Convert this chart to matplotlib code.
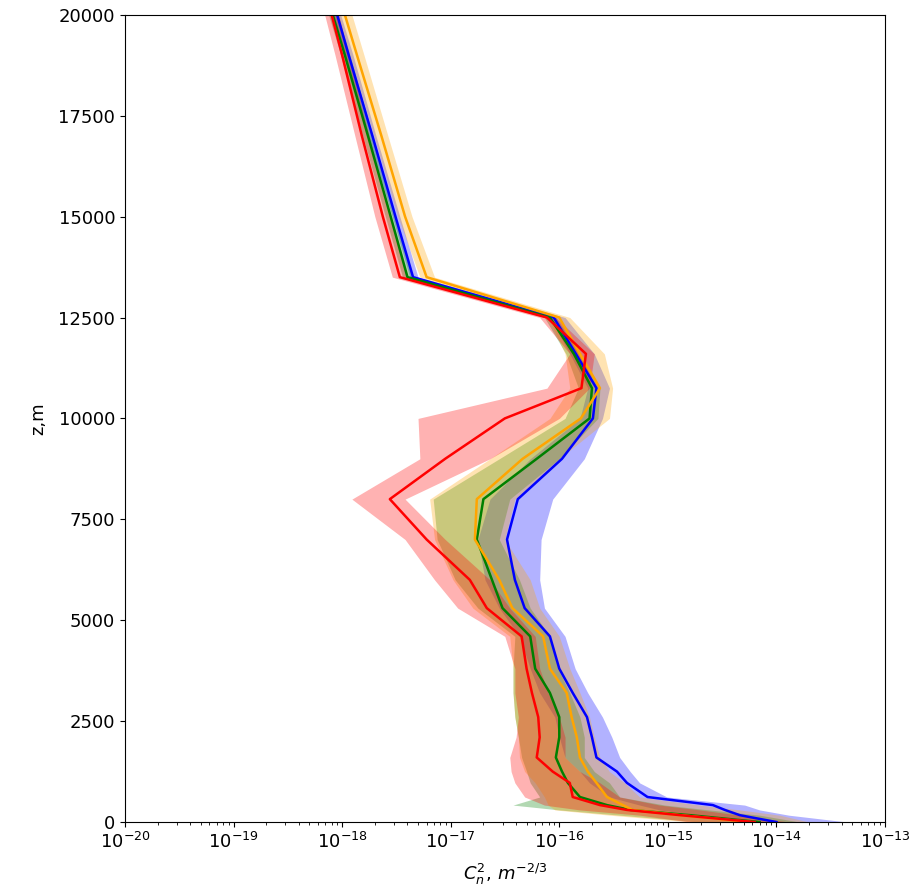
import numpy as np
import matplotlib
matplotlib.use('Agg')
import matplotlib.pyplot as plt

plt.rcParams['font.size'] = 13

# altitude levels, m
z = [0, 170, 300, 420, 620, 970, 1250, 1600, 2100, 2600, 3200, 3800, 4600, 5300,
     6000, 7000, 8000, 9000, 10000, 10750, 11600, 12500, 13500, 15000, 17000, 19000, 20000]

# Cn2 profiles (m^-2/3): mean line, lower and upper envelope
blue = [1.0e-14, 4.6e-15, 3.35e-15, 2.6e-15, 6.5e-16, 4.2e-16, 3.4e-16, 2.2e-16, 2.0e-16,
        1.8e-16, 1.33e-16, 1.0e-16, 8.2e-17, 4.8e-17, 3.9e-17, 3.3e-17, 4.15e-17, 1.06e-16,
        2.04e-16, 2.2e-16, 1.42e-16, 8.9e-17, 4.5e-18, 3.1e-18, 1.9e-18, 1.15e-18, 9.0e-19]
blue_lo = [4.6e-15, 1.97e-15, 8.4e-16, 5.5e-16, 2.9e-16, 1.9e-16, 1.55e-16, 1.13e-16, 1.0e-16,
           9.1e-17, 6.6e-17, 5.4e-17, 4.3e-17, 2.8e-17, 2.07e-17, 1.78e-17, 2.3e-17, 5.4e-17,
           1.55e-16, 1.83e-16, 1.25e-16, 8.2e-17, 4.2e-18, 2.9e-18, 1.73e-18, 1.06e-18, 8.2e-19]
blue_hi = [4.5e-14, 1.3e-14, 7.0e-15, 5.1e-15, 9.8e-16, 5.5e-16, 4.5e-16, 3.6e-16, 3.05e-16,
           2.5e-16, 1.83e-16, 1.4e-16, 1.13e-16, 7.3e-17, 6.6e-17, 6.8e-17, 8.7e-17, 1.7e-16,
           2.5e-16, 2.9e-16, 2.1e-16, 1.13e-16, 5.0e-18, 3.4e-18, 2.05e-18, 1.26e-18, 9.7e-19]

green = [7.0e-15, 1.6e-15, 4.5e-16, 2.75e-16, 1.55e-16, 1.2e-16, 1.06e-16, 9.3e-17, 1.0e-16,
         1.0e-16, 8.2e-17, 6.0e-17, 5.4e-17, 3.0e-17, 2.4e-17, 1.74e-17, 2.0e-17, 6.2e-17,
         1.9e-16, 2.0e-16, 1.36e-16, 8.2e-17, 4.0e-18, 2.8e-18, 1.73e-18, 1.06e-18, 8.2e-19]
green_lo = [1.97e-15, 3.6e-16, 1.0e-16, 3.75e-17, 6.6e-17, 5.4e-17, 5.0e-17, 4.5e-17, 4.2e-17,
            3.9e-17, 3.75e-17, 3.75e-17, 3.9e-17, 1.78e-17, 1.1e-17, 7.5e-18, 6.9e-18, 2.8e-17,
            1.13e-16, 1.5e-16, 1.15e-16, 7.3e-17, 3.6e-18, 2.5e-18, 1.55e-18, 9.7e-19, 7.5e-19]
green_hi = [1.64e-14, 7.0e-15, 2.4e-15, 9.4e-16, 3.6e-16, 2.9e-16, 2.1e-16, 1.7e-16, 1.7e-16,
            1.55e-16, 1.25e-16, 9.7e-17, 8.2e-17, 5.4e-17, 4.3e-17, 2.8e-17, 3.5e-17, 1.0e-16,
            2.27e-16, 2.37e-16, 1.55e-16, 9.3e-17, 4.5e-18, 3.1e-18, 1.92e-18, 1.18e-18, 9.1e-19]

orange = [5.7e-15, 1.3e-15, 4.7e-16, 3.85e-16, 2.75e-16, 2.2e-16, 1.83e-16, 1.55e-16, 1.45e-16,
          1.3e-16, 1.17e-16, 8.2e-17, 7.1e-17, 3.7e-17, 2.8e-17, 1.67e-17, 1.74e-17, 4.6e-17,
          1.58e-16, 2.37e-16, 1.55e-16, 1.0e-16, 6.0e-18, 3.8e-18, 2.3e-18, 1.37e-18, 1.06e-18]
orange_lo = [1.6e-15, 2.9e-16, 9.1e-17, 7.9e-17, 7.3e-17, 6.0e-17, 4.8e-17, 4.3e-17, 4.2e-17,
             3.9e-17, 3.75e-17, 3.75e-17, 3.5e-17, 1.6e-17, 1.05e-17, 7.1e-18, 6.4e-18, 2.3e-17,
             8.2e-17, 1.25e-16, 1.13e-16, 7.9e-17, 5.2e-18, 3.26e-18, 1.96e-18, 1.18e-18, 9.1e-19]
orange_hi = [2.0e-14, 1.07e-14, 4.6e-15, 1.97e-15, 5.5e-16, 4.0e-16, 2.9e-16, 2.37e-16, 2.1e-16,
             1.9e-16, 1.55e-16, 1.25e-16, 1.0e-16, 6.6e-17, 5.4e-17, 3.15e-17, 3.9e-17, 1.0e-16,
             2.9e-16, 3.1e-16, 2.6e-16, 1.25e-16, 7.1e-18, 4.4e-18, 2.64e-18, 1.59e-18, 1.23e-18]

red = [6.3e-15, 1.3e-15, 4.2e-16, 2.37e-16, 1.33e-16, 1.25e-16, 8.7e-17, 6.2e-17, 6.6e-17,
       6.4e-17, 5.6e-17, 5.0e-17, 4.5e-17, 2.15e-17, 1.5e-17, 6.0e-18, 2.75e-18, 8.9e-18,
       3.15e-17, 1.6e-16, 1.76e-16, 7.7e-17, 3.4e-18, 2.37e-18, 1.52e-18, 1.0e-18, 8.0e-19]
red_lo = [1.6e-15, 5.5e-16, 1.55e-16, 7.3e-17, 4.8e-17, 3.9e-17, 3.6e-17, 3.5e-17, 4.0e-17,
          4.2e-17, 3.9e-17, 3.9e-17, 3.15e-17, 1.16e-17, 7.1e-18, 3.8e-18, 1.23e-18, 5.2e-18,
          5.0e-18, 7.7e-17, 1.25e-16, 6.6e-17, 2.9e-18, 2.0e-18, 1.31e-18, 8.6e-19, 6.9e-19]
red_hi = [1.3e-14, 4.6e-15, 1.97e-15, 8.4e-16, 3.6e-16, 2.37e-16, 1.55e-16, 1.13e-16, 1.13e-16,
          1.0e-16, 7.9e-17, 6.6e-17, 6.0e-17, 3.5e-17, 2.3e-17, 8.9e-18, 3.8e-18, 2.3e-17,
          1.0e-16, 1.9e-16, 2.1e-16, 9.3e-17, 3.95e-18, 2.75e-18, 1.77e-18, 1.15e-18, 9.3e-19]

series = [(blue, blue_lo, blue_hi, 'blue'),
          (green, green_lo, green_hi, 'green'),
          (orange, orange_lo, orange_hi, 'orange'),
          (red, red_lo, red_hi, 'red')]

fig = plt.figure(figsize=(9.15, 8.91), dpi=100)
ax = fig.add_axes([0.1366, 0.0774, 0.8306, 0.906])

for line, lo, hi, col in series:
    ax.fill_betweenx(z, lo, hi, color=col, alpha=0.3, linewidth=0)
for line, lo, hi, col in series:
    ax.plot(line, z, color=col, linewidth=1.8)

ax.set_xscale('log')
ax.set_xlim(1e-20, 1e-13)
ax.set_ylim(0, 20000)
ax.set_yticks(np.arange(0, 20001, 2500))
ax.set_xticks([10.0**k for k in range(-20, -12)])
ax.tick_params(axis='both', labelsize=13)

ax.set_xlabel(r'$C_n^2,\, m^{-2/3}$', fontsize=13, labelpad=7)
ax.set_ylabel('z,m', fontsize=13, labelpad=8)

plt.savefig('out.png', dpi=100)
